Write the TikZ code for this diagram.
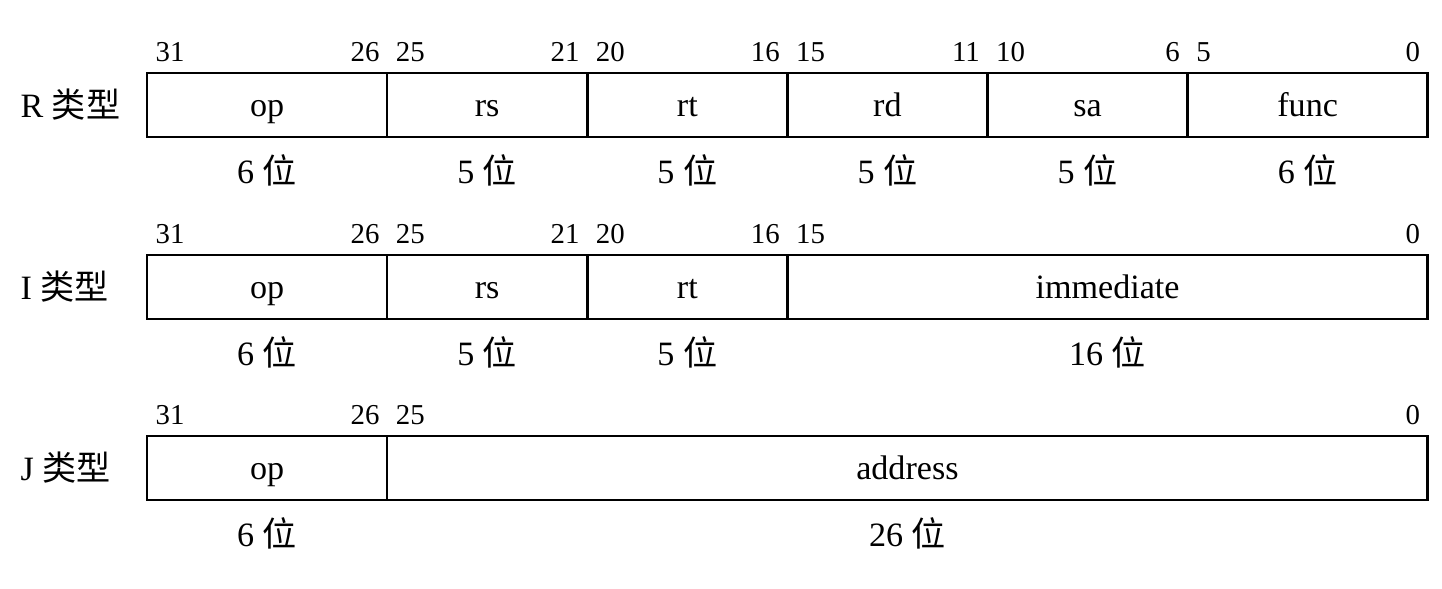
\documentclass[tikz,border=0pt]{standalone}
\usepackage{fontspec}
\setmainfont{Liberation Serif}
\newfontfamily\cjk{Noto Sans CJK SC}
\usetikzlibrary{positioning}

\tikzset{
  field/.style={draw, line width=0.75pt, minimum height=0.64cm, inner sep=0pt,
    outer sep=0pt, text height=0.82em, text depth=0.18em,
    font=\fontsize{9.7}{11}\selectfont},
  bitno/.style={inner sep=0pt, text height=0.7em, text depth=0pt,
    font=\fontsize{8.2}{9}\selectfont},
  bitwidth/.style={inner sep=0pt, text height=0.85em, text depth=0.15em,
    font=\fontsize{9.7}{11}\selectfont},
  rowlab/.style={inner sep=0pt, anchor=west, font=\fontsize{9.7}{11}\selectfont}
}

\begin{document}
\begin{tikzpicture}[x=0.01cm, y=-0.01cm, node distance=0pt]
        \useasboundingbox (0,0) rectangle (1442,589);

        % R type
        \node[rowlab] (labR) at (20,105) {R {\cjk 类型}};
        \node[field, minimum width=2.4cm, anchor=west] (opR) at (147,105) {op};
        \node[field, minimum width=2cm, right=of opR] (rsR) {rs};
        \node[field, minimum width=2cm, right=of rsR] (rtR) {rt};
        \node[field, minimum width=2cm, right=of rtR] (rdR) {rd};
        \node[field, minimum width=2cm, right=of rdR] (saR) {sa};
        \node[field, minimum width=2.4cm, right=of saR] (funcR) {func};

        % I type
        \node[rowlab] (labI) at (20,287) {I {\cjk 类型}};
        \node[field, minimum width=2.4cm, anchor=west] (opI) at (147,287) {op};
        \node[field, minimum width=2cm, right=of opI] (rsI) {rs};
        \node[field, minimum width=2cm, right=of rsI] (rtI) {rt};
        \node[field, minimum width=6.4cm, right=of rtI] (immI) {immediate};

        % J type
        \node[rowlab] (labJ) at (20,468) {J {\cjk 类型}};
        \node[field, minimum width=2.4cm, anchor=west] (opJ) at (147,468) {op};
        \node[field, minimum width=10.4cm, right=of opJ] (addrJ) {address};

        % bit numbers over each field
        \foreach \f/\hi/\lo in {opR/31/26, rsR/25/21, rtR/20/16, rdR/15/11,
            saR/10/6, funcR/5/0, opI/31/26, rsI/25/21, rtI/20/16, immI/15/0,
            opJ/31/26, addrJ/25/0} {
          \node[bitno, above right=0.11cm and 0.08cm of \f.north west] (\f-hi) {\hi};
          \node[bitno, above left=0.11cm and 0.07cm of \f.north east] (\f-lo) {\lo};
        }

        % widths
        \foreach \f/\w in {opR/6, rsR/5, rtR/5, rdR/5, saR/5, funcR/6,
            opI/6, rsI/5, rtI/5, immI/16, opJ/6, addrJ/26} {
          \node[bitwidth, below=0.16cm of \f] (\f-w) {\w\ {\cjk 位}};
        }
      \end{tikzpicture}
\end{document}
